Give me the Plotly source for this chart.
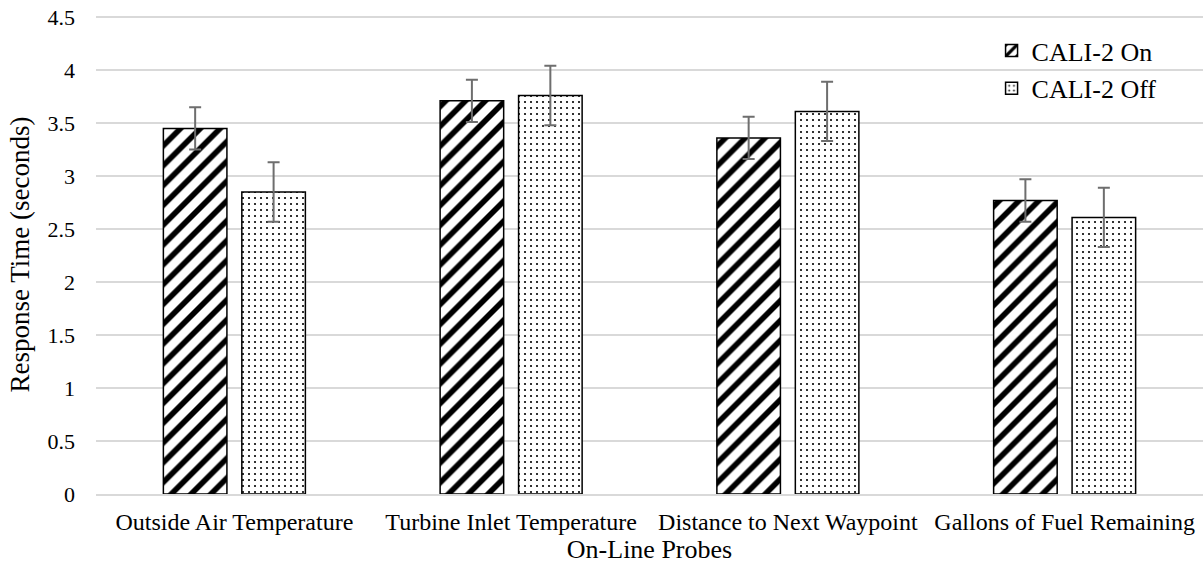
import plotly.graph_objects as go

categories = ["Outside Air Temperature", "Turbine Inlet Temperature",
              "Distance to Next Waypoint", "Gallons of Fuel Remaining"]
on_values = [3.45, 3.71, 3.36, 2.77]
off_values = [2.85, 3.76, 3.61, 2.61]
on_err = [0.20, 0.20, 0.20, 0.20]
off_err = [0.28, 0.28, 0.28, 0.28]
y_ticks = [0, 0.5, 1, 1.5, 2, 2.5, 3, 3.5, 4, 4.5]
y_ticktext = ["0", "0.5", "1", "1.5", "2", "2.5", "3", "3.5", "4", "4.5"]

font = "Liberation Serif"

fig = go.Figure()
fig.add_trace(go.Bar(
    name="CALI-2 On", x=categories, y=on_values, legendgroup="on",
    marker=dict(color="white", line=dict(color="black", width=1.5),
                pattern=dict(shape="/", fgcolor="black", bgcolor="white",
                             size=14, solidity=0.4, fillmode="replace", fgopacity=1)),
    error_y=dict(type="data", array=on_err, color="#6e6e6e", thickness=2, width=6),
))
fig.add_trace(go.Bar(
    name="CALI-2 Off", x=categories, y=off_values, legendgroup="off",
    marker=dict(color="white", line=dict(color="black", width=1.5),
                pattern=dict(shape=".", fgcolor="black", bgcolor="white",
                             size=6, solidity=0.1, fillmode="replace", fgopacity=1)),
    error_y=dict(type="data", array=off_err, color="#6e6e6e", thickness=2, width=6),
))

fig.update_layout(
    width=1203, height=573,
    margin=dict(l=96, r=0, t=15, b=79),
    paper_bgcolor="white", plot_bgcolor="white",
    barmode="group", bargap=0.433, bargroupgap=0.19,
    font=dict(family=font, color="black", size=22),
    legend=dict(x=0.809, y=0.975, xanchor="left", yanchor="top",
                font=dict(family=font, size=26, color="black"), bgcolor="rgba(0,0,0,0)",
                itemwidth=30, traceorder="grouped", tracegroupgap=1),
    xaxis=dict(title=dict(text="On-Line Probes", font=dict(family=font, size=26), standoff=5),
               showline=True, linecolor="#d9d9d9", linewidth=1.5,
               tickfont=dict(family=font, size=24), ticks="", ticklabelstandoff=5),
    yaxis=dict(title=dict(text="Response Time (seconds)", font=dict(family=font, size=27), standoff=10),
               range=[0, 4.52], tickvals=y_ticks, ticktext=y_ticktext,
               gridcolor="#d9d9d9", gridwidth=1.5, zeroline=False,
               tickfont=dict(family=font, size=22), ticks="", ticklabelstandoff=20),
)

fig.write_html("out.html", config={"displayModeBar": False},
               post_script="document.body.style.margin='0';document.body.style.overflow='hidden';")
